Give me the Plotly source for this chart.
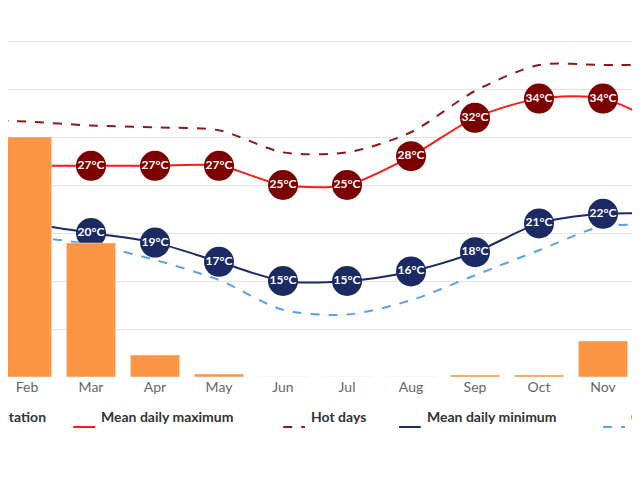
import plotly.graph_objects as go

months = ["Jan", "Feb", "Mar", "Apr", "May", "Jun", "Jul", "Aug", "Sep", "Oct", "Nov", "Dec"]
precip_mm = [115, 120, 67, 11, 1.5, 0, 0, 0, 1, 1, 18, 106]
mean_max = [27, 27, 27, 27, 27, 25, 25, 28, 32, 34, 34, 31]
hot_days = [31.8, 31.6, 31.2, 31.0, 30.7, 28.4, 28.4, 30.5, 34.8, 37.5, 37.5, 37.5]
mean_min = [21.5, 21, 20, 19, 17, 15, 15, 16, 18, 21, 22, 22]
cold_nights = [19.6, 19.6, 18.8, 17.2, 15.1, 12.0, 11.5, 13.0, 15.6, 18.2, 20.7, 20.7]

x = list(range(12))
font = "Lato, 'Open Sans', sans-serif"

fig = go.Figure()
fig.add_trace(go.Bar(x=x, y=precip_mm, marker_color="#FD9644", width=0.77,
                     yaxis="y2", name="Precipitation"))
fig.add_trace(go.Scatter(x=x, y=cold_nights, mode="lines", name="Cold nights",
                         line=dict(color="#5aa0ea", width=2, dash="dash", shape="spline", smoothing=0.8)))
fig.add_trace(go.Scatter(x=x, y=hot_days, mode="lines", name="Hot days",
                         line=dict(color="#8b1a1a", width=2, dash="dash", shape="spline", smoothing=0.8)))
fig.add_trace(go.Scatter(x=x, y=mean_max, mode="lines+markers+text", name="Mean daily maximum",
                         line=dict(color="#ff1a1a", width=2, shape="spline", smoothing=0.8),
                         marker=dict(size=30, color="#7d0000"),
                         text=[f"<b>{v}°C</b>" for v in mean_max],
                         textfont=dict(color="white", size=12, family=font)))
fig.add_trace(go.Scatter(x=x, y=mean_min, mode="lines+markers+text", name="Mean daily minimum",
                         line=dict(color="#1c2a63", width=2, shape="spline", smoothing=0.8),
                         marker=dict(size=30, color="#1c2a63"),
                         text=[f"<b>{v}°C</b>" for v in mean_min],
                         textfont=dict(color="white", size=12, family=font)))

# legend drawn by hand (cropped like the reference)
ly = -0.1355
fig.add_annotation(x=0.0625, y=ly, xref="paper", yref="paper", text="<b>Precipitation</b>",
                   showarrow=False, xanchor="right", font=dict(size=14, color="#333", family=font))
legend = [
    (0.102, "#ff1a1a", "solid", "Mean daily maximum"),
    (0.430, "#8b1a1a", "dash", "Hot days"),
    (0.611, "#1c2a63", "solid", "Mean daily minimum"),
    (0.930, "#5aa0ea", "dash", "Cold nights"),
]
for x0, color, dash, label in legend:
    fig.add_shape(type="line", xref="paper", yref="paper", x0=x0, x1=x0 + 0.034,
                  y0=ly, y1=ly, line=dict(color=color, width=2, dash=dash))
    fig.add_annotation(x=x0 + 0.0406, y=ly, xref="paper", yref="paper", text=f"<b>{label}</b>",
                       showarrow=False, xanchor="left", font=dict(size=14, color="#333", family=font))

fig.update_layout(
    width=640, height=480, margin=dict(l=0, r=0, t=0, b=111),
    plot_bgcolor="white", paper_bgcolor="white", showlegend=False,
    xaxis=dict(range=[0.703, 10.703], tickvals=x, ticktext=months, showgrid=False,
               tickfont=dict(size=14, color="#666", family=font), ticks="", zeroline=False),
    yaxis=dict(range=[5, 43.44], dtick=5, tick0=5, gridcolor="#e3e3e3", showticklabels=False,
               zeroline=False, showline=False),
    yaxis2=dict(range=[0, 184.5], overlaying="y", showgrid=False, showticklabels=False, zeroline=False),
)
fig.write_html("out.html")
